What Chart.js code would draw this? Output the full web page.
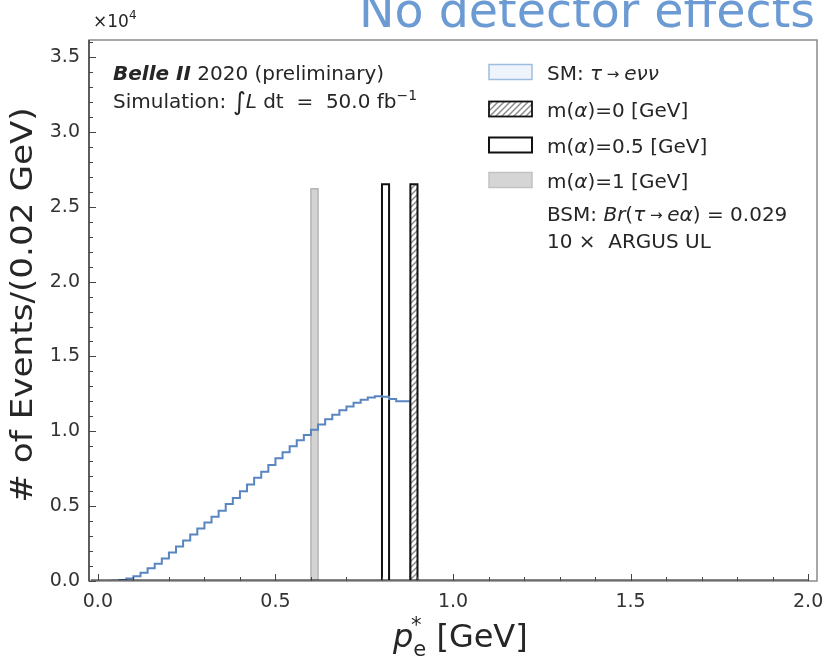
<!DOCTYPE html>
<html>
<head>
<meta charset="utf-8">
<script src="https://cdn.jsdelivr.net/npm/chart.js@4.4.1/dist/chart.umd.min.js"></script>
<style>
  html, body { margin: 0; padding: 0; background: #fff; }
  #wrap { width: 825px; height: 665px; }
</style>
</head>
<body>
<div id="wrap"><canvas id="chart" width="825" height="665"></canvas></div>
<script>
// SM histogram, bins of 0.02 GeV (left edges), values in units of 1e4 events
const smBinLow = [0.00, 0.02, 0.04, 0.06, 0.08, 0.10, 0.12, 0.14, 0.16, 0.18,
                  0.20, 0.22, 0.24, 0.26, 0.28, 0.30, 0.32, 0.34, 0.36, 0.38,
                  0.40, 0.42, 0.44, 0.46, 0.48, 0.50, 0.52, 0.54, 0.56, 0.58,
                  0.60, 0.62, 0.64, 0.66, 0.68, 0.70, 0.72, 0.74, 0.76, 0.78,
                  0.80, 0.82, 0.84, 0.86];
const smEnd = 0.88;
const smValues = [0, 0, 0, 0.002, 0.006, 0.016, 0.032, 0.055, 0.085, 0.115,
                  0.15, 0.19, 0.23, 0.27, 0.31, 0.35, 0.39, 0.43, 0.47, 0.515,
                  0.555, 0.60, 0.645, 0.69, 0.73, 0.775, 0.82, 0.86, 0.90, 0.94,
                  0.975, 1.01, 1.045, 1.08, 1.11, 1.14, 1.165, 1.19, 1.21, 1.225,
                  1.235, 1.23, 1.215, 1.20];

// BSM signal peaks (one bin each)
const sigNames = ["m(α)=0 [GeV]", "m(α)=0.5 [GeV]", "m(α)=1 [GeV]"];
const sigLow = [0.88, 0.80, 0.60];
const sigHigh = [0.90, 0.82, 0.62];
const sigHeight = [2.65, 2.65, 2.62];

const baselineRange = [-0.02, 2.0];
const xTicks = [0.0, 0.5, 1.0, 1.5, 2.0];
const yTicks = [0.0, 0.5, 1.0, 1.5, 2.0, 2.5, 3.0, 3.5];

const FONT = '"DejaVu Sans", "Noto Sans", sans-serif';
const TEXT = '#262626';

function makeHatch() {
  const c = document.createElement('canvas');
  c.width = 6; c.height = 6;
  const g = c.getContext('2d');
  g.fillStyle = '#ffffff';
  g.fillRect(0, 0, 6, 6);
  g.strokeStyle = '#8c8c8c';
  g.lineWidth = 1.5;
  g.beginPath();
  g.moveTo(0, 6); g.lineTo(6, 0);
  g.moveTo(-1, 1); g.lineTo(1, -1);
  g.moveTo(5, 7); g.lineTo(7, 5);
  g.stroke();
  return g.createPattern(c, 'repeat');
}
const hatch = makeHatch();

const sigStyles = [
  { bg: hatch, border: '#111111', width: 2 },
  { bg: '#ffffff', border: '#111111', width: 2 },
  { bg: '#d3d3d3', border: '#b4b4b4', width: 1.5 }
];

// step points for the SM histogram
const smPoints = smBinLow.map((x, i) => ({ x: x, y: smValues[i] }));
smPoints.push({ x: smEnd, y: smValues[smValues.length - 1] });
smPoints.push({ x: smEnd, y: 0 });

const datasets = [{
  label: 'SM',
  data: smPoints,
  stepped: 'after',
  borderColor: '#5985c0',
  borderWidth: 2,
  pointRadius: 0,
  fill: false,
  order: 1
}];

sigNames.forEach((name, i) => {
  datasets.push({
    label: name,
    data: [
      { x: sigLow[i], y: 0 }, { x: sigLow[i], y: sigHeight[i] },
      { x: sigHigh[i], y: sigHeight[i] }, { x: sigHigh[i], y: 0 }
    ],
    borderColor: sigStyles[i].border,
    backgroundColor: sigStyles[i].bg,
    borderWidth: sigStyles[i].width,
    pointRadius: 0,
    fill: 'origin',
    order: i === 0 ? 0 : 2
  });
});

datasets.push({
  label: 'baseline',
  data: [{ x: baselineRange[0], y: 0 }, { x: baselineRange[1], y: 0 }],
  borderColor: '#111111',
  borderWidth: 3,
  pointRadius: 0,
  fill: false,
  order: -1
});

// draw a line of text made of several runs with different fonts
function drawRuns(ctx, x, y, parts) {
  parts.forEach(p => {
    ctx.font = p.f;
    ctx.fillText(p.t, x, y + (p.dy || 0));
    x += ctx.measureText(p.t).width;
  });
  return x;
}
const R = s => `${s}px ${FONT}`;
const I = s => `italic ${s}px ${FONT}`;
const BI = s => `italic bold ${s}px ${FONT}`;

const decorPlugin = {
  id: 'decor',
  afterDatasetsDraw(chart) {
    const ctx = chart.ctx;
    const a = chart.chartArea;
    const xs = chart.scales.x, ys = chart.scales.y;
    ctx.save();

    // frame
    ctx.strokeStyle = '#8a8a8a';
    ctx.lineWidth = 1.5;
    ctx.strokeRect(a.left, a.top, a.right - a.left, a.bottom - a.top);
    ctx.strokeStyle = '#444';
    ctx.beginPath();
    ctx.moveTo(a.left, a.top); ctx.lineTo(a.left, a.bottom);
    ctx.stroke();

    // inward ticks
    ctx.strokeStyle = '#444';
    ctx.lineWidth = 1;
    ctx.beginPath();
    for (let k = 0; k <= 36; k++) {
      const py = Math.round(ys.getPixelForValue(k / 10)) + 0.5;
      const len = k % 5 === 0 ? 7 : 4;
      ctx.moveTo(a.left, py); ctx.lineTo(a.left + len, py);
    }
    for (let k = 0; k <= 20; k++) {
      const px = Math.round(xs.getPixelForValue(k / 10)) + 0.5;
      const len = k % 5 === 0 ? 7 : 4;
      ctx.moveTo(px, a.bottom); ctx.lineTo(px, a.bottom - len);
    }
    ctx.stroke();

    ctx.fillStyle = TEXT;
    ctx.textBaseline = 'alphabetic';
    ctx.textAlign = 'left';

    // exponent
    drawRuns(ctx, 93, 27, [{ t: '×10', f: R(17) }, { t: '4', f: R(12), dy: -8 }]);

    // title
    ctx.fillStyle = '#6c9bd3';
    ctx.font = R(47.5);
    ctx.textAlign = 'right';
    ctx.fillText('No detector effects', 815, 27);
    ctx.textAlign = 'left';
    ctx.fillStyle = TEXT;

    // experiment label
    drawRuns(ctx, 113, 80, [{ t: 'Belle II', f: BI(20) }, { t: ' 2020 (preliminary)', f: R(20) }]);
    drawRuns(ctx, 113, 108, [
      { t: 'Simulation: ', f: R(20) },
      { t: '∫', f: R(25), dy: 2 },
      { t: 'L', f: I(20) },
      { t: ' dt  =  50.0 fb', f: R(20) },
      { t: '−1', f: R(14), dy: -8 }
    ]);

    // legend
    const sx = 489, sw = 43, sh = 15, tx = 547;
    const rows = [
      { cy: 72, fill: '#eef4fb', stroke: '#9dbde0', lw: 1.5,
        parts: [{ t: 'SM: ', f: R(20) }, { t: 'τ', f: I(20) }, { t: ' → ', f: R(15), dy: -1 },
                { t: 'eνν', f: I(20) }] },
      { cy: 109, fill: hatch, stroke: '#111', lw: 1.8,
        parts: [{ t: 'm(', f: R(20) }, { t: 'α', f: I(20) }, { t: ')=0 [GeV]', f: R(20) }] },
      { cy: 145, fill: '#ffffff', stroke: '#111', lw: 2,
        parts: [{ t: 'm(', f: R(20) }, { t: 'α', f: I(20) }, { t: ')=0.5 [GeV]', f: R(20) }] },
      { cy: 180, fill: '#d5d5d5', stroke: '#c2c2c2', lw: 1.5,
        parts: [{ t: 'm(', f: R(20) }, { t: 'α', f: I(20) }, { t: ')=1 [GeV]', f: R(20) }] }
    ];
    rows.forEach(r => {
      ctx.fillStyle = r.fill;
      ctx.fillRect(sx, r.cy - sh / 2, sw, sh);
      ctx.strokeStyle = r.stroke;
      ctx.lineWidth = r.lw;
      ctx.strokeRect(sx, r.cy - sh / 2, sw, sh);
      ctx.fillStyle = TEXT;
      drawRuns(ctx, tx, r.cy + 8, r.parts);
    });
    drawRuns(ctx, tx, 221, [
      { t: 'BSM: ', f: R(20) }, { t: 'Br', f: I(20) }, { t: '(', f: R(20) },
      { t: 'τ', f: I(20) }, { t: ' → ', f: R(15), dy: -1 }, { t: 'eα', f: I(20) },
      { t: ') = 0.029', f: R(20) }
    ]);
    drawRuns(ctx, tx, 248, [{ t: '10 ×  ARGUS UL', f: R(20) }]);

    // axis titles
    drawRuns(ctx, 393, 647, [
      { t: 'p', f: I(32) },
      { t: 'e', f: R(21), dy: 9 },
      { t: ' [GeV]', f: R(32) }
    ]);
    drawRuns(ctx, 411, 647, [{ t: '*', f: R(21), dy: -15 }]);

    ctx.save();
    ctx.translate(24, 305);
    ctx.rotate(-Math.PI / 2);
    ctx.scale(1.14, 1);
    ctx.font = R(30);
    ctx.textAlign = 'center';
    ctx.textBaseline = 'middle';
    ctx.fillText('# of Events/(0.02 GeV)', 0, 0);
    ctx.restore();

    ctx.restore();
  }
};

new Chart(document.getElementById('chart'), {
  type: 'line',
  data: { datasets: datasets },
  options: {
    responsive: false,
    animation: false,
    layout: { padding: { left: 0, top: 40, right: 8, bottom: 0 } },
    plugins: { legend: { display: false }, tooltip: { enabled: false } },
    elements: { line: { tension: 0 } },
    scales: {
      x: {
        type: 'linear',
        min: -0.025,
        max: 2.025,
        grid: { display: false, drawTicks: false },
        border: { display: false },
        afterBuildTicks: s => { s.ticks = xTicks.map(v => ({ value: v })); },
        afterFit: s => { s.height = 84; s.paddingLeft = 0; s.paddingRight = 0; },
        ticks: {
          padding: 10,
          maxRotation: 0,
          color: '#333',
          font: { family: FONT, size: 19 },
          callback: v => Number(v).toFixed(1)
        }
      },
      y: {
        type: 'linear',
        min: 0,
        max: 3.614,
        grid: { display: false, drawTicks: false },
        border: { display: false },
        afterBuildTicks: s => { s.ticks = yTicks.map(v => ({ value: v })); },
        afterFit: s => { s.width = 89; s.paddingTop = 0; s.paddingBottom = 0; },
        ticks: {
          padding: 9,
          color: '#333',
          font: { family: FONT, size: 19 },
          callback: v => Number(v).toFixed(1)
        }
      }
    }
  },
  plugins: [decorPlugin]
});
</script>
</body>
</html>
